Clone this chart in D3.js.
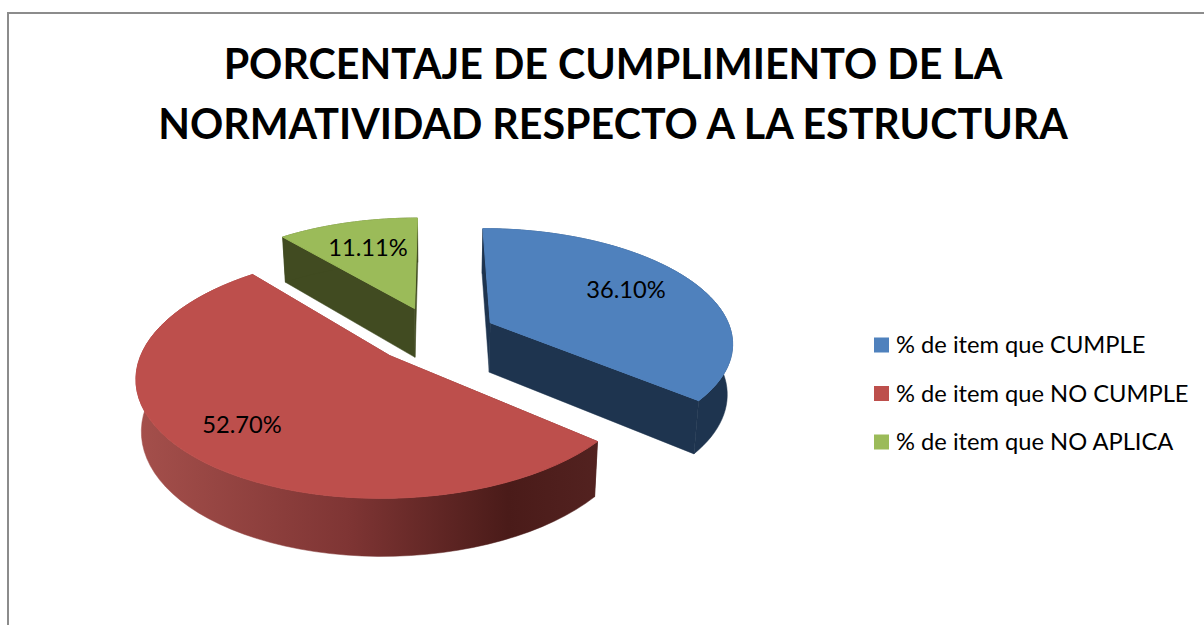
<!DOCTYPE html>
<html lang="es">

<head>
    <meta charset="UTF-8">
    <script src="https://cdn.jsdelivr.net/npm/d3@7"></script>
    <title>Porcentaje de cumplimiento</title>
    <style>
        html, body {
            margin: 0;
            background: white;
            overflow: hidden;
        }

        text {
            font-family: Lato, sans-serif;
            fill: #000;
        }
    </style>
</head>

<body>
    <script>
        const title_lines = ["PORCENTAJE DE CUMPLIMIENTO DE LA", "NORMATIVIDAD RESPECTO A LA ESTRUCTURA"]
        const categories = ["% de item que CUMPLE", "% de item que NO CUMPLE", "% de item que NO APLICA"]
        const values = [36.10, 52.70, 11.11]
        const top_colors = ["#4f81bd", "#bd4f4c", "#9bbb59"]
        const wall_colors = ["#1e344f", "url(#redWall)", "#414b21"]

        const width = 1204, height = 625

        // hand fitted camera for the tilted pie
        const cam = {
            vx: 436, vy: -374.5, A: 4468, B: 6.3,
            rx: 242, dx: -1, depth: 50, shrink: 0.018, explode: 0.256
        }

        function project(X, Y, bottom) {
            const s = cam.B / (cam.B - Y)
            let sx = cam.vx + s * (cam.rx * X + cam.dx)
            let sy = cam.vy + cam.A / (cam.B - Y)
            if (bottom) {
                sx = cam.vx + (sx - cam.vx) * (1 - cam.shrink)
                sy += cam.depth * (1 + (s - 1) * 0.7)
            }
            return [sx, sy]
        }

        const svg = d3.select("body").append("svg")
            .attr("width", width)
            .attr("height", height)

        const grad = svg.append("defs").append("linearGradient")
            .attr("id", "redWall")
            .attr("gradientUnits", "userSpaceOnUse")
            .attr("x1", 140).attr("x2", 600).attr("y1", 0).attr("y2", 0)
        grad.selectAll("stop")
            .data([[0, "#a44f4b"], [0.45, "#7f3534"], [0.8, "#4a1b19"], [1, "#532220"]])
            .enter().append("stop")
            .attr("offset", d => d[0])
            .attr("stop-color", d => d[1])

        // frame, only top and left reach the picture
        svg.append("path")
            .attr("d", d3.line()([[8, height], [8, 13], [width, 13]]))
            .attr("fill", "none")
            .attr("stroke", "#8c8c8c")
            .attr("stroke-width", 2)

        svg.selectAll(".title")
            .data(title_lines)
            .enter().append("text")
            .attr("class", "title")
            .attr("x", 613)
            .attr("y", (d, i) => 79 + i * 60)
            .attr("text-anchor", "middle")
            .attr("font-size", 41.2)
            .attr("font-weight", 700)
            .text(d => d)

        const arcs = d3.pie().sort(null)(values)
        const line = d3.line()

        function pieces(d) {
            const mid = (d.startAngle + d.endAngle) / 2
            const ox = Math.sin(mid) * cam.explode
            const oy = -Math.cos(mid) * cam.explode
            const angles = d3.range(0, 61).map(i => d.startAngle + (d.endAngle - d.startAngle) * i / 60)
            const rim = angles.map(a => [ox + Math.sin(a), oy - Math.cos(a)])
            return { tip: [ox, oy], rim: rim }
        }

        const toTop = p => project(p[0], p[1], false)
        const toBottom = p => project(p[0], p[1], true)

        // back slices first
        const order = [2, 0, 1]
        order.forEach(i => {
            const d = arcs[i]
            const p = pieces(d)
            const g = svg.append("g")
                .attr("stroke", wall_colors[i])
                .attr("stroke-width", 0.5)
            const wall = (a, b) => [a, b].map(toTop).concat([b, a].map(toBottom))

            // two radial faces
            g.append("path").attr("d", line(wall(p.tip, p.rim[0])) + "Z").attr("fill", wall_colors[i])
            g.append("path").attr("d", line(wall(p.tip, p.rim[60])) + "Z").attr("fill", wall_colors[i])
            // outer wall
            g.append("path")
                .attr("d", line(p.rim.map(toTop).concat(p.rim.slice().reverse().map(toBottom))) + "Z")
                .attr("fill", wall_colors[i])
            // top, stroked in its own colour to cover the wall hairline on the back rim
            g.append("path")
                .attr("d", line([toTop(p.tip)].concat(p.rim.map(toTop))) + "Z")
                .attr("fill", top_colors[i])
                .attr("stroke", top_colors[i])
                .attr("stroke-width", 1)
        })

        // data labels
        const label_pos = [[626, 298], [242, 433], [368, 256]]
        svg.selectAll(".val")
            .data(values)
            .enter().append("text")
            .attr("class", "val")
            .attr("x", (d, i) => label_pos[i][0])
            .attr("y", (d, i) => label_pos[i][1])
            .attr("text-anchor", "middle")
            .attr("font-size", 23.7)
            .text(d => d3.format(".2f")(d) + "%")

        // legend
        const legendY = d3.scalePoint().domain(categories).range([345, 442])
        const legend = svg.selectAll(".legend")
            .data(categories)
            .enter().append("g")
            .attr("class", "legend")
            .attr("transform", d => `translate(874,${legendY(d)})`)
        legend.append("rect")
            .attr("y", -7.5)
            .attr("width", 15)
            .attr("height", 15)
            .attr("fill", (d, i) => top_colors[i])
        legend.append("text")
            .attr("x", 22)
            .attr("y", 8)
            .attr("font-size", 23.7)
            .text(d => d)
    </script>
</body>

</html>
